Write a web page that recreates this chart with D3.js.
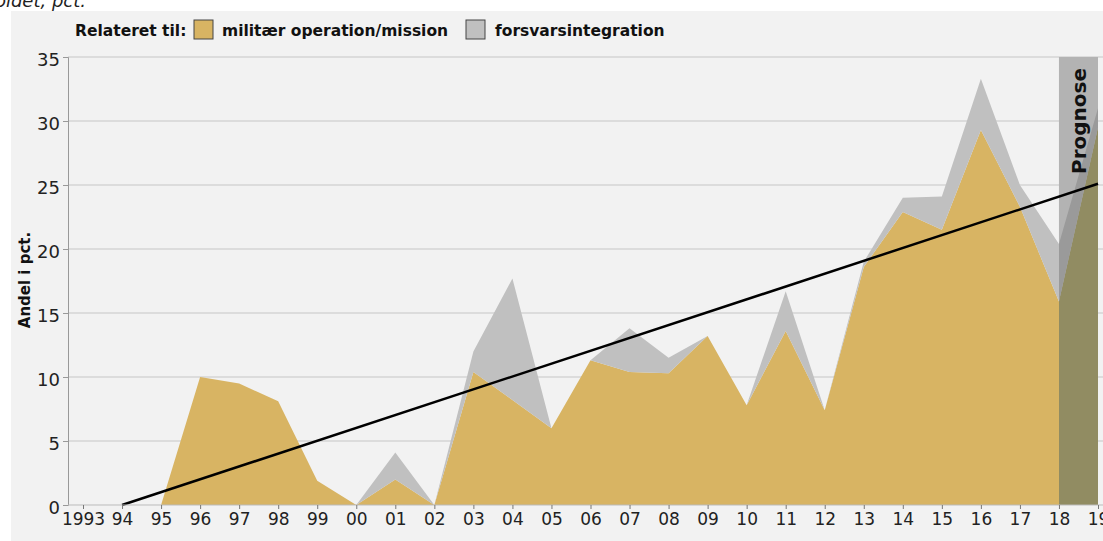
<!DOCTYPE html>
<html>
<head>
<meta charset="utf-8">
<script src="https://cdn.jsdelivr.net/npm/d3@7"></script>
<style>
  body { margin: 0; background: #fff; }
  svg { display: block; font-family: "DejaVu Sans", sans-serif; }
  .tick text { fill: #222; }
</style>
</head>
<body>
<div id="container"></div>
<script>
// Hard Code values ---------- ---------- ----------
let canvasW = 1103, canvasH = 541;
let years = [1993, 1994, 1995, 1996, 1997, 1998, 1999, 2000, 2001, 2002, 2003, 2004, 2005,
             2006, 2007, 2008, 2009, 2010, 2011, 2012, 2013, 2014, 2015, 2016, 2017, 2018, 2019];
let tickLabels = ["1993", "94", "95", "96", "97", "98", "99", "00", "01", "02", "03", "04", "05",
                  "06", "07", "08", "09", "10", "11", "12", "13", "14", "15", "16", "17", "18", "19"];
// militær operation/mission
let military = [0, 0, 0, 10.0, 9.5, 8.1, 1.9, 0, 2.0, 0, 10.4, 8.2, 6.0,
                11.3, 10.4, 10.3, 13.2, 7.8, 13.6, 7.4, 18.6, 22.9, 21.5, 29.3, 23.3, 15.9, 29.5];
// forsvarsintegration (stacked on top)
let integration = [0, 0, 0, 0, 0, 0, 0, 0, 2.1, 0, 1.6, 9.5, 0,
                   0, 3.4, 1.2, 0, 0, 3.1, 0, 0.4, 1.1, 2.6, 4.0, 1.7, 4.5, 1.5];
let trendYears = [1994, 2019];
let trendValues = [0, 25.1];
let prognoseYears = [2018, 2019];
let yTicks = [0, 5, 10, 15, 20, 25, 30, 35];

//Initialize ---------- ---------- ----------
let svg = d3.select("#container").append("svg").attr("width", canvasW).attr("height", canvasH);

// Panel + cut-off title
svg.append("text").attr("x", 86).attr("y", 7).attr("text-anchor", "end")
    .attr("font-size", 18).attr("font-style", "italic").attr("fill", "#222").text("forholdet, pct.");
svg.append("rect").attr("x", 11).attr("y", 11).attr("width", canvasW - 11).attr("height", canvasH - 11)
    .attr("fill", "#f2f2f2");

let x = d3.scaleLinear().domain([1993, 2019]).range([83, 1098]);
let y = d3.scaleLinear().domain([0, 35]).range([505, 57]);
let axisX = 68;

let table = years.map((yr, i) => ({year: yr, military: military[i], integration: integration[i]}));
let series = d3.stack().keys(["military", "integration"])(table);

// Clips
let defs = svg.append("defs");
defs.append("clipPath").attr("id", "histClip").append("rect")
    .attr("x", axisX).attr("y", 0).attr("width", x(prognoseYears[0]) - axisX).attr("height", canvasH);
defs.append("clipPath").attr("id", "progClip").append("rect")
    .attr("x", x(prognoseYears[0])).attr("y", 0).attr("width", x(prognoseYears[1]) - x(prognoseYears[0])).attr("height", canvasH);

// Gridlines
svg.append("g").selectAll("line").data(yTicks.slice(1)).enter().append("line")
    .attr("x1", axisX).attr("x2", canvasW).attr("y1", d => y(d)).attr("y2", d => y(d))
    .attr("stroke", "#d4d4d4").attr("stroke-width", 1.5);

// Prognose band
svg.append("rect").attr("x", x(prognoseYears[0])).attr("y", y(35))
    .attr("width", x(prognoseYears[1]) - x(prognoseYears[0])).attr("height", y(0) - y(35))
    .attr("fill", "#b3b3b3");

let area = d3.area().x(d => x(d.data.year)).y0(d => y(d[0])).y1(d => y(d[1]));
let histColors = ["#d8b463", "#c0c0c0"];
let progColors = ["#918c62", "#9a9a9a"];

svg.append("g").attr("clip-path", "url(#histClip)").selectAll("path").data(series).enter().append("path")
    .attr("d", area).attr("fill", (d, i) => histColors[i]);
svg.append("g").attr("clip-path", "url(#progClip)").selectAll("path").data(series).enter().append("path")
    .attr("d", area).attr("fill", (d, i) => progColors[i]);

// Prognose label
svg.append("text").attr("transform", "translate(" + (x(2018.5) + 8) + "," + 68 + ") rotate(-90)")
    .attr("text-anchor", "end").attr("font-size", 20).attr("font-weight", "bold").attr("fill", "#111")
    .text("Prognose");

// Trend line
svg.append("line")
    .attr("x1", x(trendYears[0])).attr("y1", y(trendValues[0]))
    .attr("x2", x(trendYears[1])).attr("y2", y(trendValues[1]))
    .attr("stroke", "#000").attr("stroke-width", 2.5);

// Axes
let yAxis = svg.append("g").attr("transform", "translate(" + axisX + ",0)")
    .call(d3.axisLeft(y).tickValues(yTicks).tickSize(5).tickPadding(3));
yAxis.select(".domain").attr("stroke", "#999");
yAxis.selectAll(".tick line").attr("stroke", "#999");
yAxis.selectAll(".tick text").attr("font-size", 18).attr("font-family", "DejaVu Sans").attr("dy", "0.45em");

svg.append("line").attr("x1", axisX).attr("x2", canvasW).attr("y1", y(0)).attr("y2", y(0))
    .attr("stroke", "#bbb").attr("stroke-width", 1);
let xAxis = svg.append("g").attr("transform", "translate(0," + y(0) + ")")
    .call(d3.axisBottom(x).tickValues(years).tickFormat((d, i) => tickLabels[i]).tickSize(4).tickPadding(4));
xAxis.select(".domain").remove();
xAxis.selectAll(".tick line").attr("stroke", "#777");
xAxis.selectAll(".tick text").attr("font-size", 17).attr("font-family", "DejaVu Sans");

// Y label
svg.append("text").attr("transform", "translate(" + 30 + "," + 280 + ") rotate(-90)")
    .attr("text-anchor", "middle").attr("font-size", 15).attr("font-weight", "bold").attr("fill", "#111")
    .text("Andel i pct.");

// Legend
let lg = svg.append("g").attr("font-size", 15.5).attr("fill", "#111");
lg.append("text").attr("x", 75).attr("y", 36).attr("font-weight", "bold").text("Relateret til:");
lg.append("rect").attr("x", 194).attr("y", 20).attr("width", 19).attr("height", 19)
    .attr("fill", histColors[0]).attr("stroke", "#444").attr("stroke-width", 1);
lg.append("text").attr("x", 222).attr("y", 36).attr("font-weight", 600).text("militær operation/mission");
lg.append("rect").attr("x", 466).attr("y", 20).attr("width", 19).attr("height", 19)
    .attr("fill", histColors[1]).attr("stroke", "#444").attr("stroke-width", 1);
lg.append("text").attr("x", 495).attr("y", 36).attr("font-weight", 600).text("forsvarsintegration");
</script>
</body>
</html>
